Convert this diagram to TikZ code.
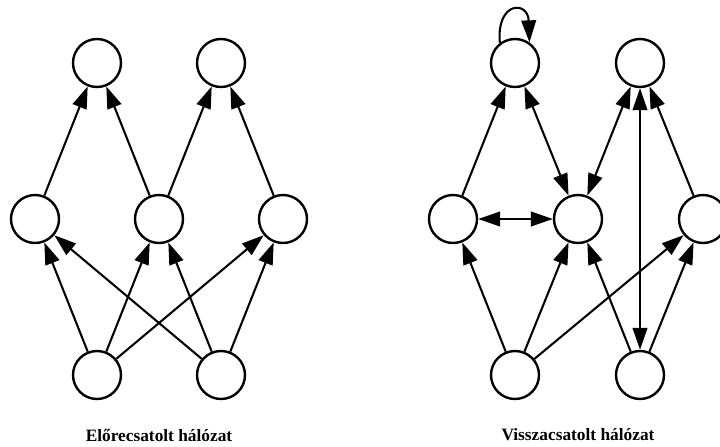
\documentclass[tikz,border=0pt]{standalone}
\usepackage{fontspec}
\setmainfont{Liberation Serif}
\usetikzlibrary{arrows.meta}

\begin{document}
\begin{tikzpicture}[x=0.75pt,y=0.75pt]
\tikzstyle{every node}+=[inner sep=0pt]
\tikzset{>={Triangle[length=16.5pt,width=11pt]}}
\tikzstyle{neuron}=[draw=black,circle,line width=1.8pt,minimum size=36pt]
\tikzstyle{link}=[black,line width=1.55pt,->]
\tikzstyle{bilink}=[black,line width=1.55pt,<->]
\tikzstyle{caption}=[font=\fontsize{13}{15}\selectfont\bfseries]
\useasboundingbox (0,0) rectangle (720,-446);
\node[neuron] (tA) at (97,-63) {};
\node[neuron] (tB) at (221,-63) {};
\node[neuron] (mA) at (35,-219) {};
\node[neuron] (mB) at (159,-219) {};
\node[neuron] (mC) at (283,-219) {};
\node[neuron] (bA) at (97,-375) {};
\node[neuron] (bB) at (221,-375) {};
\draw[link] (mA) -- (tA);
\draw[link] (mB) -- (tA);
\draw[link] (mB) -- (tB);
\draw[link] (mC) -- (tB);
\draw[link] (bA) -- (mA);
\draw[link] (bA) -- (mB);
\draw[link] (bA) -- (mC);
\draw[link] (bB) -- (mA);
\draw[link] (bB) -- (mB);
\draw[link] (bB) -- (mC);
\node[caption] (capA) at (159,-435) {Előrecsatolt hálózat};
\node[neuron] (tC) at (515,-63) {};
\node[neuron] (tD) at (640,-63) {};
\node[neuron] (mD) at (453,-219) {};
\node[neuron] (mE) at (578,-219) {};
\node[neuron] (mF) at (703,-219) {};
\node[neuron] (bC) at (515,-375) {};
\node[neuron] (bD) at (640,-375) {};
\draw[link] (tC.127) .. controls +(95:42) and +(92:42) .. (tC.55);
\draw[link] (mD) -- (tC);
\draw[bilink] (tC) -- (mE);
\draw[bilink] (mD) -- (mE);
\draw[bilink] (tD) -- (mE);
\draw[bilink] (tD) -- (bD);
\draw[link] (mF) -- (tD);
\draw[link] (bC) -- (mD);
\draw[link] (bC) -- (mE);
\draw[link] (bC) -- (mF);
\draw[link] (bD) -- (mE);
\draw[link] (bD) -- (mF);
\node[caption] (capB) at (578,-435) {Visszacsatolt hálózat};
\end{tikzpicture}
\end{document}
